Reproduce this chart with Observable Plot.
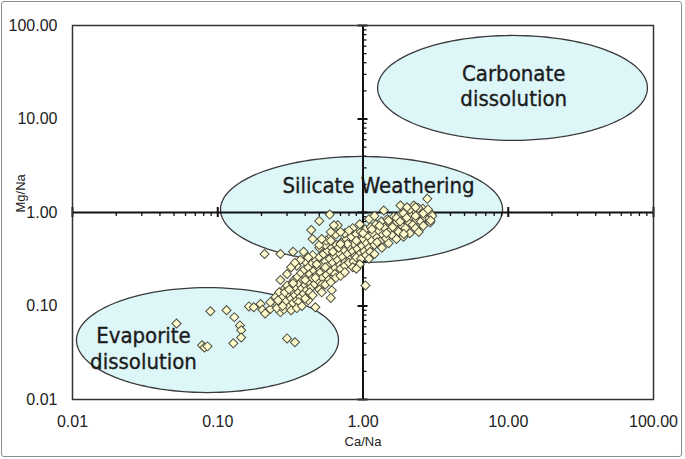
<!DOCTYPE html>
<html>
<head>
<meta charset="utf-8">
<script src="https://cdn.jsdelivr.net/npm/d3@7"></script>
<script src="https://cdn.jsdelivr.net/npm/@observablehq/plot@0.6"></script>
<style>
  html, body { margin: 0; padding: 0; background: #fff; }
  #wrap { position: relative; width: 685px; height: 459px; }
  #border { position: absolute; left: 1px; top: 1px; width: 679px; height: 454px;
            border: 1.5px solid #8c8c8c; border-radius: 3px; pointer-events: none; }
</style>
</head>
<body>
<div id="wrap"><div id="border"></div></div>
<script>
// ---- axis ticks ----
const xTicks = [0.01, 0.1, 1, 10, 100];
const yTicks = [0.01, 0.1, 1, 10, 100];
const xLabel = "Ca/Na";
const yLabel = "Mg/Na";

// ---- region ellipses (centre in data units, half-axes in log10 decades) ----
const regionNames = ["Carbonate\ndissolution", "Silicate Weathering", "Evaporite\ndissolution"];
const regionCx = [10.7, 0.977, 0.085];
const regionCy = [21.5, 1.077, 0.0432];
const regionRx = [0.929, 0.971, 0.902];
const regionRy = [0.561, 0.567, 0.561];
const labelX = [10.9, 1.28, 0.0308];
const labelY = [22.8, 1.95, 0.0356];

// ---- samples: Ca/Na, Mg/Na ----
const evaporiteSamples = [
  [0.052,0.065],[0.089,0.088],[0.115,0.090],[0.130,0.076],[0.142,0.062],[0.145,0.055],
  [0.145,0.046],[0.128,0.040],[0.078,0.038],[0.081,0.036],[0.085,0.037],[0.30,0.045],
  [0.34,0.041],[0.164,0.099],[0.177,0.097],[0.197,0.105],[0.203,0.091],[0.212,0.083],
  [0.23,0.093],[0.257,0.105],[0.27,0.086],[0.292,0.105],[0.30,0.12]
];
const bandSamples = [
  [0.23,0.11],[0.25,0.125],[0.255,0.095],[0.265,0.14],[0.27,0.108],[0.28,0.125],[0.285,0.092],
  [0.29,0.155],[0.295,0.112],[0.305,0.135],[0.31,0.098],[0.315,0.17],[0.32,0.12],[0.325,0.145],
  [0.33,0.108],[0.335,0.19],[0.34,0.13],[0.345,0.158],[0.35,0.115],[0.355,0.205],[0.36,0.14],
  [0.365,0.172],[0.37,0.125],[0.375,0.225],[0.38,0.155],[0.385,0.19],[0.39,0.135],[0.395,0.245],
  [0.40,0.168],[0.405,0.205],[0.41,0.148],[0.42,0.26],[0.425,0.182],[0.43,0.22],[0.44,0.158],
  [0.445,0.29],[0.45,0.198],[0.46,0.24],[0.465,0.172],[0.47,0.31],[0.48,0.215],[0.49,0.26],
  [0.495,0.185],[0.50,0.335],[0.51,0.23],[0.52,0.28],[0.525,0.2],[0.535,0.36],[0.545,0.25],
  [0.55,0.3],[0.56,0.215],[0.57,0.39],[0.58,0.27],[0.59,0.32],[0.60,0.235],[0.61,0.42],
  [0.62,0.29],[0.635,0.345],[0.645,0.255],[0.655,0.45],[0.67,0.31],[0.685,0.37],[0.695,0.275],
  [0.71,0.48],[0.725,0.335],[0.74,0.4],[0.755,0.295],[0.77,0.52],[0.785,0.36],[0.80,0.43],
  [0.815,0.315],[0.83,0.55],[0.85,0.385],[0.865,0.46],[0.88,0.34],[0.895,0.59],[0.915,0.41],
  [0.93,0.49],[0.95,0.36],[0.965,0.62],[0.985,0.44],[1.0,0.52],[1.02,0.385],[1.04,0.66],
  [1.06,0.47],[1.08,0.56],[1.10,0.42],[1.13,0.7],[1.15,0.5],[1.17,0.6],[1.20,0.45],[1.23,0.75],
  [1.25,0.54],[1.28,0.64],[1.31,0.49],[1.34,0.8],[1.37,0.58],[1.40,0.69],[1.44,0.53],[1.47,0.85],
  [1.51,0.62],[1.55,0.74],[1.59,0.57],[1.63,0.9],[1.67,0.67],[1.71,0.79],[1.76,0.62],[1.81,0.95],
  [1.86,0.72],[1.91,0.85],[1.96,0.68],[2.02,1.0],[2.08,0.78],[2.14,0.91],[2.2,0.74],[2.27,1.05],
  [2.34,0.84],[2.42,0.97],[2.5,0.8],[2.58,1.1],[2.66,0.9],[2.76,1.02],[2.86,0.87],[2.96,0.96],
  [0.3,0.165],[0.33,0.175],[0.36,0.11],[0.4,0.19],[0.43,0.14],[0.47,0.2],[0.52,0.17],[0.55,0.26],
  [0.58,0.19],[0.64,0.22],[0.7,0.25],[0.75,0.27],[0.8,0.29],[0.86,0.3],[0.9,0.33],[0.97,0.32],
  [1.05,0.35],[1.12,0.38],[0.48,0.28],[0.62,0.38],[0.68,0.42],[0.78,0.46],[0.9,0.5],[1.0,0.6],
  [1.15,0.66],[1.3,0.72],[1.5,0.82],[1.7,0.88],[1.9,0.98],[2.1,1.08],[2.4,1.12],[2.6,0.98],
  [2.8,1.08],[3.0,0.92],[1.6,0.7],[1.8,0.8],[2.0,0.88],[2.3,0.92],[1.45,0.6],[1.25,0.48],
  [0.26,0.115],[0.28,0.10],[0.32,0.09],[0.35,0.095],[0.38,0.1],[0.42,0.115],[0.29,0.14],[0.31,0.15]
];
const bandUpperEdge = [
  [0.3,0.22],[0.35,0.27],[0.4,0.3],[0.45,0.35],[0.5,0.42],[0.55,0.45],[0.6,0.55],[0.65,0.58],
  [0.75,0.6],[0.85,0.68],[0.95,0.75],[1.1,0.85],[1.2,0.92],[0.7,0.62],[0.5,0.45],[0.42,0.33],
  [0.37,0.31],[0.32,0.26],[0.27,0.19],[0.56,0.5],[0.8,0.64]
];
const bandLowerEdge = [
  [0.45,0.13],[0.5,0.15],[0.55,0.17],[0.6,0.18],[0.65,0.2],[0.7,0.21],[0.75,0.23],[0.85,0.26],
  [0.95,0.28],[1.1,0.32],[1.2,0.36],[1.35,0.42],[1.5,0.47],[1.7,0.52],[1.9,0.55],[2.1,0.6],
  [2.3,0.68],[2.6,0.72],[2.9,0.78],[0.4,0.12],[0.52,0.14]
];
const scatteredSamples = [
  [0.21,0.36],[0.27,0.36],[0.33,0.38],[0.34,0.29],[0.39,0.38],[0.44,0.65],[0.50,0.81],
  [0.59,0.95],[0.45,0.52],[0.52,0.52],[0.60,0.62],[0.67,0.73],[0.60,0.50],[0.70,0.46],
  [0.63,0.73],[1.39,1.05],[1.81,1.19],[2.24,1.19],[2.01,1.14],[2.30,1.14],[2.77,1.40],
  [2.92,0.82],[2.42,0.62],[1.91,0.59],[0.90,0.25],[1.04,0.166],[0.61,0.147],[0.60,0.122],
  [0.47,0.097]
];

// ---- build tables for the library ----
const samples = [...evaporiteSamples, ...bandSamples, ...bandUpperEdge, ...bandLowerEdge, ...scatteredSamples]
  .map(([ca, mg]) => ({ca, mg}));

const ellipses = regionNames.flatMap((name, k) =>
  d3.range(0, 121).map(i => {
    const t = (i / 120) * 2 * Math.PI;
    return {
      region: name,
      x: Math.pow(10, Math.log10(regionCx[k]) + regionRx[k] * Math.cos(t)),
      y: Math.pow(10, Math.log10(regionCy[k]) + regionRy[k] * Math.sin(t))
    };
  })
);
const labels = regionNames.map((name, k) => ({name, x: labelX[k], y: labelY[k]}));

const decades = [0.01, 0.1, 1, 10];
const minor = decades.flatMap(d => d3.range(2, 10).map(m => +(d * m).toPrecision(3)));

const ink = "#1c1c1c";
const regionFont = "'DejaVu Sans Condensed', 'DejaVu Sans', sans-serif";

const chart = Plot.plot({
  width: 685,
  height: 459,
  marginLeft: 72,
  marginRight: 32,
  marginTop: 25,
  marginBottom: 60,
  style: {fontFamily: "'Liberation Sans', Arial, sans-serif", color: "#222", background: "transparent"},
  x: {type: "log", domain: [0.01, 100], label: null},
  y: {type: "log", domain: [0.01, 100], label: null},
  marks: [
    Plot.line(ellipses, {x: "x", y: "y", z: "region", fill: "#ddf6f8", stroke: "#3a3a3a", strokeWidth: 1.3, curve: "linear-closed"}),
    Plot.text(labels, {x: "x", y: "y", text: "name", fontSize: 22, fontFamily: regionFont, fill: ink, stroke: ink, strokeWidth: 0.35, lineHeight: 1.15}),
    // central axes at Ca/Na = 1 and Mg/Na = 1
    Plot.ruleY([1], {stroke: "#111", strokeWidth: 2}),
    Plot.ruleX([1], {stroke: "#111", strokeWidth: 2}),
    Plot.ruleX(minor, {x: d => d, y1: 1, y2: 1, insetBottom: -4, stroke: "#111", strokeWidth: 1.3}),
    Plot.ruleX(xTicks, {x: d => d, y1: 1, y2: 1, insetTop: -5, insetBottom: -5, stroke: "#111", strokeWidth: 2}),
    Plot.ruleY(minor, {y: d => d, x1: 1, x2: 1, insetRight: -4, stroke: "#111", strokeWidth: 1.3}),
    Plot.ruleY(yTicks, {y: d => d, x1: 1, x2: 1, insetLeft: -5, insetRight: -5, stroke: "#111", strokeWidth: 2}),
    Plot.dot(samples, {x: "ca", y: "mg", symbol: "square", rotate: 45, r: 3.6, fill: "#fffbcc", stroke: "#4d4d40", strokeWidth: 1}),
    Plot.frame({stroke: "#333", strokeWidth: 1.5}),
    Plot.axisX(xTicks, {tickSize: 0, tickPadding: 16, fontSize: 16, tickFormat: d => d.toFixed(2), label: null}),
    Plot.axisY(yTicks, {tickSize: 0, tickPadding: 15, fontSize: 16, tickFormat: d => d.toFixed(2), label: null}),
    Plot.text([xLabel], {frameAnchor: "bottom", dy: 42, fontSize: 13, fill: "#222", lineAnchor: "middle"}),
    Plot.text([yLabel], {frameAnchor: "left", dx: -52, rotate: -90, fontSize: 13, fill: "#222"})
  ]
});
document.getElementById("wrap").prepend(chart);
</script>
</body>
</html>
